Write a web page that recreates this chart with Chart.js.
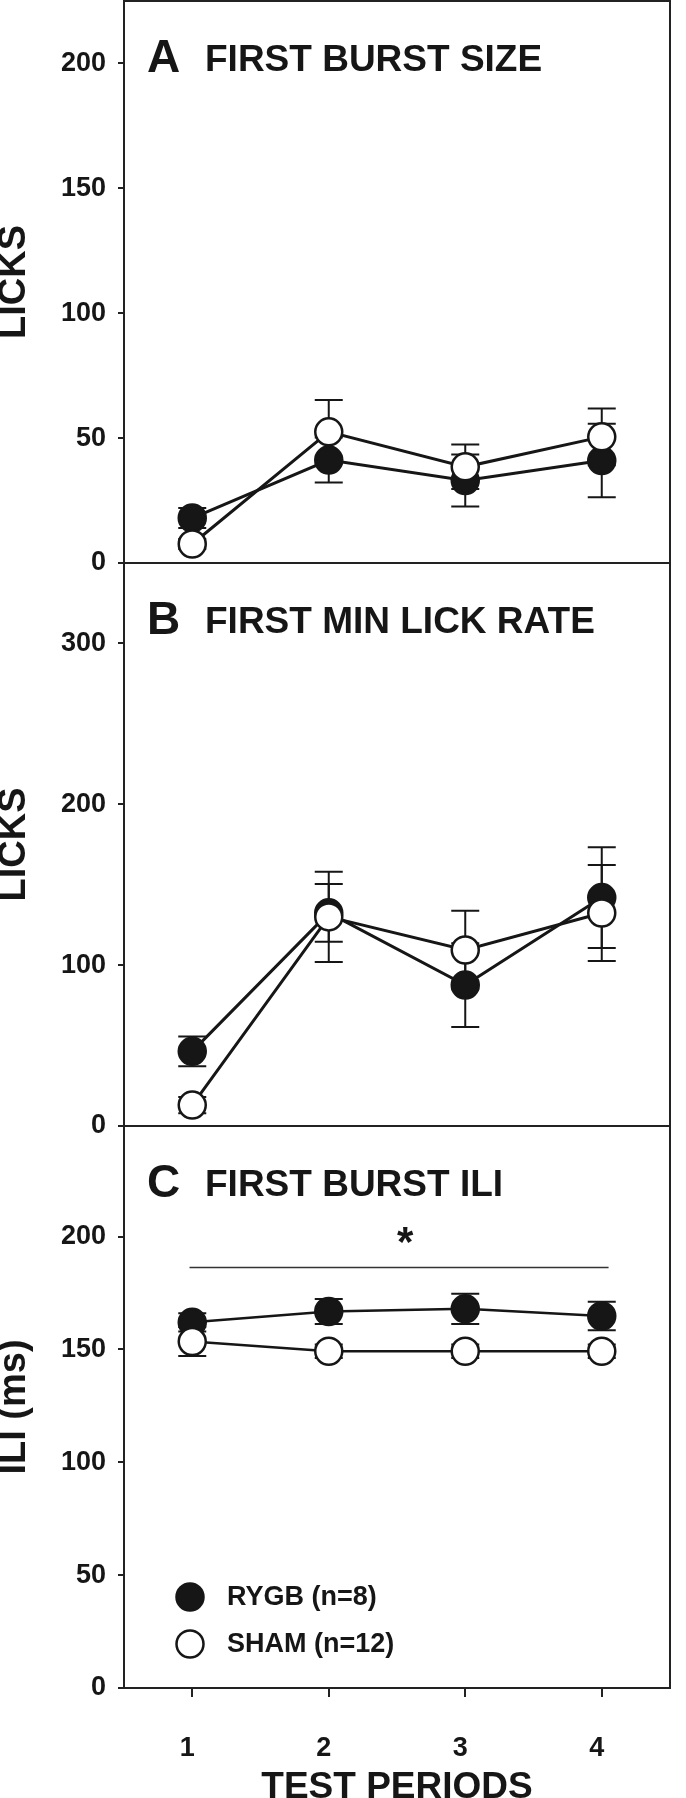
<!DOCTYPE html>
<html><head><meta charset="utf-8">
<script src="https://cdn.jsdelivr.net/npm/chart.js@4.4.1/dist/chart.umd.min.js"></script>
<style>
html,body{margin:0;padding:0;background:#fff;width:686px;height:1798px;overflow:hidden;position:relative}
canvas{position:absolute;left:0}
</style></head><body>
<canvas id="cA" width="686" height="640" style="top:-40px;width:686px;height:640px"></canvas>
<canvas id="cB" width="686" height="640" style="top:523px;width:686px;height:640px"></canvas>
<canvas id="cC" width="686" height="734" style="top:1086px;width:686px;height:734px"></canvas>
<script>
// ---------------- data ----------------
const periods = [1, 2, 3, 4];
const seriesNames = ['RYGB (n=8)', 'SHAM (n=12)'];
const panelLetters = ['A', 'B', 'C'];
const panelTitles = ['FIRST BURST SIZE', 'FIRST MIN LICK RATE', 'FIRST BURST ILI'];
const yTitles = ['LICKS', 'LICKS', 'ILI (ms)'];
const xTitle = 'TEST PERIODS';

const burstRYGB    = [18, 41.2, 33, 41];
const burstRYGBErr = [4, 9, 10.4, 14.7];
const burstSHAM    = [7.6, 52.5, 38.5, 50.5];
const burstSHAMErr = [2, 12.8, 8.9, 11.4];

const rateRYGB    = [46.4, 132.5, 87.6, 142];
const rateRYGBErr = [9.3, 18, 26, 31.3];
const rateSHAM    = [13, 130, 109.4, 132.4];
const rateSHAMErr = [5, 28, 24.4, 29.9];

const iliRYGB    = [162, 166.8, 168, 164.8];
const iliRYGBErr = [4, 5.5, 6.7, 6.3];
const iliSHAM    = [153.5, 149.2, 149.2, 149.2];
const iliSHAMErr = [6.4, 3, 3, 3];

const ticksA = [0, 50, 100, 150, 200];
const ticksB = [0, 100, 200, 300];
const ticksC = [0, 50, 100, 150, 200];
const yMaxA = 225, yMaxB = 350, yMaxC = 249;
const xMin = 0.5, xMax = 4.5;

const sigLineC = [0.98, 4.05, 186.5];   // x from, x to, y value
const sigStarC = [2.56, 202, '*'];      // x, y, text

// ---------------- style ----------------
const INK = '#161616';
const FONT = '"Liberation Sans", Arial, Helvetica, sans-serif';
Chart.defaults.font.family = FONT;

const decor = {
  id: 'decor',
  beforeDatasetsDraw(chart, args, o) {
    const ctx = chart.ctx, ys = chart.scales.y, xs = chart.scales.x;
    ctx.save();
    ctx.strokeStyle = INK;
    ctx.lineWidth = 2;
    const cap = 14;
    chart.data.datasets.forEach((ds, di) => {
      const meta = chart.getDatasetMeta(di);
      meta.data.forEach((pt, i) => {
        const v = ds.data[i].y, e = ds.errors[i];
        const y1 = ys.getPixelForValue(v + e), y2 = ys.getPixelForValue(v - e);
        ctx.beginPath();
        ctx.moveTo(pt.x, y1); ctx.lineTo(pt.x, y2);
        ctx.moveTo(pt.x - cap, y1); ctx.lineTo(pt.x + cap, y1);
        ctx.moveTo(pt.x - cap, y2); ctx.lineTo(pt.x + cap, y2);
        ctx.stroke();
      });
    });
    if (o.sig) {
      const [a, b, v] = o.sig;
      const y = Math.round(ys.getPixelForValue(v)) + 0.5;
      ctx.strokeStyle = '#333';
      ctx.lineWidth = 1.5;
      ctx.beginPath();
      ctx.moveTo(xs.getPixelForValue(a), y);
      ctx.lineTo(xs.getPixelForValue(b), y);
      ctx.stroke();
    }
    if (o.star) {
      const [sx, sy, txt] = o.star;
      ctx.fillStyle = INK;
      ctx.font = 'bold 42px ' + FONT;
      ctx.textAlign = 'center';
      ctx.textBaseline = 'alphabetic';
      ctx.fillText(txt, xs.getPixelForValue(sx), ys.getPixelForValue(sy) + 0.57 * 42);
    }
    ctx.restore();
  },
  afterDraw(chart, args, o) {
    const ctx = chart.ctx, ca = chart.chartArea;
    ctx.save();
    // frame
    ctx.strokeStyle = '#222';
    ctx.lineWidth = 2;
    ctx.strokeRect(ca.left, ca.top, ca.right - ca.left, ca.bottom - ca.top);
    // panel letter + title
    ctx.fillStyle = INK;
    ctx.textAlign = 'left';
    ctx.textBaseline = 'alphabetic';
    ctx.font = 'bold 46px ' + FONT;
    ctx.fillText(o.letter, ca.left + 23, ca.top + 71);
    ctx.font = 'bold 37px ' + FONT;
    ctx.fillText(o.title, ca.left + 81, ca.top + 70);
    // legend
    if (o.legend) {
      const rows = [ca.top + 471, ca.top + 518];
      chart.data.datasets.forEach((ds, di) => {
        const y = rows[di], x = ca.left + 66;
        ctx.beginPath();
        ctx.arc(x, y, 13.5, 0, Math.PI * 2);
        ctx.fillStyle = ds.pointBackgroundColor;
        ctx.fill();
        ctx.lineWidth = 2.5;
        ctx.strokeStyle = ds.pointBorderColor;
        ctx.stroke();
        ctx.fillStyle = INK;
        ctx.font = 'bold 27px ' + FONT;
        ctx.textBaseline = 'middle';
        ctx.fillText(ds.label, ca.left + 103, y + 1);
        ctx.textBaseline = 'alphabetic';
      });
    }
    ctx.restore();
  }
};

function makeDatasets(rygb, rygbErr, sham, shamErr, lw) {
  return [
    {
      label: seriesNames[0],
      data: periods.map((p, i) => ({x: p, y: rygb[i]})),
      errors: rygbErr,
      borderColor: INK, borderWidth: lw,
      pointRadius: 13.5, pointHoverRadius: 13.5,
      pointBackgroundColor: INK, pointBorderColor: INK, pointBorderWidth: 2.5,
      order: 1
    },
    {
      label: seriesNames[1],
      data: periods.map((p, i) => ({x: p, y: sham[i]})),
      errors: shamErr,
      borderColor: INK, borderWidth: lw,
      pointRadius: 13.5, pointHoverRadius: 13.5,
      pointBackgroundColor: '#ffffff', pointBorderColor: INK, pointBorderWidth: 2.5,
      order: 0
    }
  ];
}

function makePanel(id, idx, ds, ticks, yMax, padTop, padBottom, showX, extra) {
  const tickFont = {family: FONT, size: 27, weight: 'bold'};
  return new Chart(document.getElementById(id), {
    type: 'line',
    data: {datasets: ds},
    options: {
      responsive: false, animation: false, devicePixelRatio: 1,
      events: [],
      layout: {padding: {left: 0, right: 2, top: padTop, bottom: padBottom}},
      plugins: {
        legend: {display: false}, tooltip: {enabled: false},
        decor: Object.assign({letter: panelLetters[idx], title: panelTitles[idx]}, extra || {})
      },
      scales: {
        x: {
          type: 'linear', min: xMin, max: xMax, display: showX,
          afterBuildTicks: s => { s.ticks = periods.map(v => ({value: v})); },
          afterFit: s => { s.height = showX ? 132 : 0; },
          grid: {display: true, drawOnChartArea: false, drawTicks: true, tickLength: 9, color: '#222', lineWidth: 2},
          border: {display: false},
          ticks: {font: tickFont, color: INK, padding: 35, labelOffset: -5, maxRotation: 0, autoSkip: false,
                  callback: v => String(v)},
          title: {display: true, text: xTitle, color: INK,
                  font: {family: FONT, size: 37, weight: 'bold', lineHeight: 1},
                  padding: {top: 0, bottom: 14}}
        },
        y: {
          type: 'linear', min: 0, max: yMax,
          afterBuildTicks: s => { s.ticks = ticks.map(v => ({value: v})); },
          afterFit: s => { s.width = 124; },
          grid: {display: true, drawOnChartArea: false, drawTicks: true, tickLength: 6, color: '#222', lineWidth: 2},
          border: {display: false},
          ticks: {font: tickFont, color: INK, padding: 12, autoSkip: false, callback: v => String(v)},
          title: {display: true, text: yTitles[idx], color: INK,
                  font: {family: FONT, size: 38, weight: 'bold', lineHeight: 1},
                  padding: {top: -4, bottom: 0}}
        }
      }
    },
    plugins: [decor]
  });
}

makePanel('cA', 0, makeDatasets(burstRYGB, burstRYGBErr, burstSHAM, burstSHAMErr, 3),
  ticksA, yMaxA, 41, 37, false);
makePanel('cB', 1, makeDatasets(rateRYGB, rateRYGBErr, rateSHAM, rateSHAMErr, 3),
  ticksB, yMaxB, 40, 37, false);
makePanel('cC', 2, makeDatasets(iliRYGB, iliRYGBErr, iliSHAM, iliSHAMErr, 2.5),
  ticksC, yMaxC, 40, 0, true, {legend: true, sig: sigLineC, star: sigStarC});
</script></body></html>
